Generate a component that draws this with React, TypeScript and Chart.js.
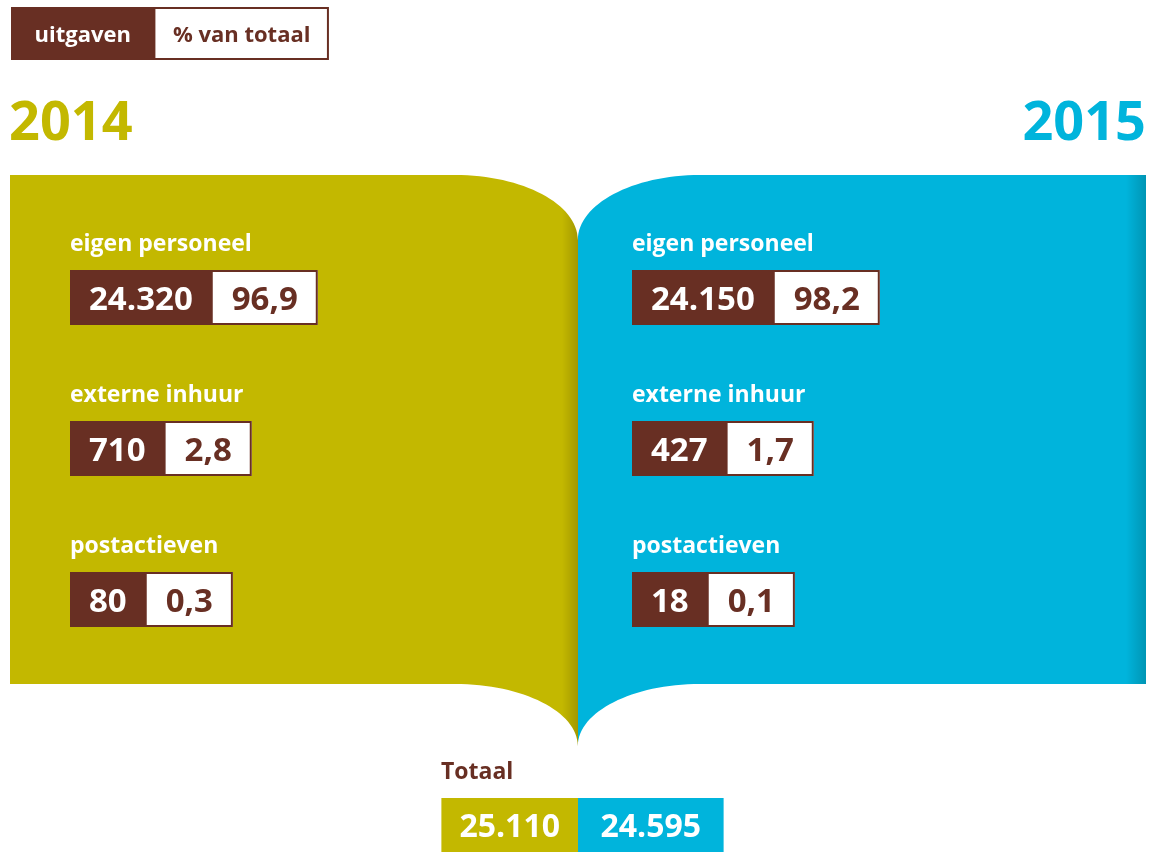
import React, { useEffect, useRef } from 'react';
import { Chart, registerables } from 'chart.js';

Chart.register(...registerables);

// ---- data ----
const categories = ['eigen personeel', 'externe inhuur', 'postactieven'];
const years = ['2014', '2015'];
const uitgaven2014 = [24320, 710, 80];
const pct2014 = [96.9, 2.8, 0.3];
const uitgaven2015 = [24150, 427, 18];
const pct2015 = [98.2, 1.7, 0.1];
const totals = [25110, 24595];
const legendLabels = ['uitgaven', '% van totaal'];
const totalLabel = 'Totaal';

// ---- style ----
const OLIVE = '#C3B800';
const OLIVE_DARK = '#A39800';
const CYAN = '#00B4DC';
const CYAN_DARK = '#0095B4';
const BROWN = '#682F23';
const WHITE = '#FFFFFF';
const FONT = '"Open Sans", "DejaVu Sans", sans-serif';
const W = 1153;
const H = 852;

const fmtInt = (n: number) => String(n).replace(/\B(?=(\d{3})+(?!\d))/g, '.');
const fmtPct = (p: number) => p.toFixed(1).replace('.', ',');

const infographicPlugin = {
  id: 'infographic',
  beforeDraw(chart: any) {
    const ctx = chart.ctx as CanvasRenderingContext2D;
    ctx.save();
    ctx.fillStyle = WHITE;
    ctx.fillRect(0, 0, chart.width, chart.height);
    ctx.restore();
  },
  afterDraw(chart: any) {
    const ctx = chart.ctx as CanvasRenderingContext2D;
    const sx = chart.scales.x;
    const sy = chart.scales.y;
    const X = (v: number) => sx.getPixelForValue(v);
    const Y = (v: number) => sy.getPixelForValue(v);
    const k = 0.5523;

    ctx.save();

    // ---- legend ----
    ctx.font = `bold 22px ${FONT}`;
    const lw1 = ctx.measureText(legendLabels[0]).width + 47;
    const lw2 = ctx.measureText(legendLabels[1]).width + 37;
    const lx = X(11), ly = Y(7), lh = 53;
    ctx.fillStyle = BROWN;
    ctx.fillRect(lx, ly, lw1, lh);
    ctx.fillStyle = WHITE;
    ctx.fillRect(lx + lw1, ly, lw2, lh);
    ctx.strokeStyle = BROWN;
    ctx.lineWidth = 2;
    ctx.strokeRect(lx + lw1, ly + 1, lw2 - 1, lh - 2);
    ctx.textAlign = 'center';
    ctx.textBaseline = 'alphabetic';
    ctx.fillStyle = WHITE;
    ctx.fillText(legendLabels[0], lx + lw1 / 2, Y(42));
    ctx.fillStyle = BROWN;
    ctx.fillText(legendLabels[1], lx + lw1 + lw2 / 2, Y(42));

    // ---- years ----
    ctx.font = `bold 54px ${FONT}`;
    ctx.textAlign = 'left';
    ctx.fillStyle = OLIVE;
    ctx.fillText(years[0], X(9), Y(140));
    ctx.textAlign = 'right';
    ctx.fillStyle = CYAN;
    ctx.fillText(years[1], X(1146), Y(140));

    // ---- book pages ----
    const top = 175, bot = 684, spine = 578, spineTop = 240, spineBot = 746;
    const lcx = 455, lrx = spine - lcx;
    const rcx = 700, rrx = rcx - spine;
    const ryT = spineTop - top, ryB = spineBot - bot;

    // left page
    ctx.beginPath();
    ctx.moveTo(X(10), Y(top));
    ctx.lineTo(X(lcx), Y(top));
    ctx.bezierCurveTo(X(lcx + k * lrx), Y(top), X(spine), Y(spineTop - k * ryT), X(spine), Y(spineTop));
    ctx.lineTo(X(spine), Y(spineBot));
    ctx.bezierCurveTo(X(spine), Y(spineBot - k * ryB), X(lcx + k * lrx), Y(bot), X(lcx), Y(bot));
    ctx.lineTo(X(10), Y(bot));
    ctx.closePath();
    let g = ctx.createLinearGradient(X(10), 0, X(spine), 0);
    const ls = (spine - 16 - 10) / (spine - 10);
    g.addColorStop(0, OLIVE);
    g.addColorStop(ls, OLIVE);
    g.addColorStop(1, OLIVE_DARK);
    ctx.fillStyle = g;
    ctx.fill();

    // right page
    const rEdge = 1146;
    ctx.beginPath();
    ctx.moveTo(X(rEdge), Y(top));
    ctx.lineTo(X(rcx), Y(top));
    ctx.bezierCurveTo(X(rcx - k * rrx), Y(top), X(spine), Y(spineTop - k * ryT), X(spine), Y(spineTop));
    ctx.lineTo(X(spine), Y(spineBot));
    ctx.bezierCurveTo(X(spine), Y(spineBot - k * ryB), X(rcx - k * rrx), Y(bot), X(rcx), Y(bot));
    ctx.lineTo(X(rEdge), Y(bot));
    ctx.closePath();
    g = ctx.createLinearGradient(X(spine), 0, X(rEdge), 0);
    const rs = (rEdge - 20 - spine) / (rEdge - spine);
    g.addColorStop(0, CYAN);
    g.addColorStop(rs, CYAN);
    g.addColorStop(1, CYAN_DARK);
    ctx.fillStyle = g;
    ctx.fill();

    // ---- category blocks ----
    const drawPair = (x: number, y: number, val: string, pct: string) => {
      const h = 55;
      ctx.font = `bold 33px ${FONT}`;
      const w1 = ctx.measureText(val).width + 38;
      const w2 = ctx.measureText(pct).width + 40;
      ctx.fillStyle = BROWN;
      ctx.fillRect(X(x), Y(y), w1, h);
      ctx.fillStyle = WHITE;
      ctx.fillRect(X(x) + w1, Y(y), w2, h);
      ctx.strokeStyle = BROWN;
      ctx.lineWidth = 2;
      ctx.strokeRect(X(x) + w1, Y(y) + 1, w2 - 1, h - 2);
      ctx.textAlign = 'center';
      ctx.textBaseline = 'alphabetic';
      ctx.fillStyle = WHITE;
      ctx.fillText(val, X(x) + w1 / 2, Y(y) + h / 2 + 12);
      ctx.fillStyle = BROWN;
      ctx.fillText(pct, X(x) + w1 + w2 / 2, Y(y) + h / 2 + 12);
    };

    const rowTops = [270, 421, 572];
    const sides = [
      { x: 70, vals: uitgaven2014, pcts: pct2014 },
      { x: 632, vals: uitgaven2015, pcts: pct2015 },
    ];
    sides.forEach((s) => {
      categories.forEach((cat, i) => {
        ctx.font = `bold 23px ${FONT}`;
        ctx.textAlign = 'left';
        ctx.textBaseline = 'alphabetic';
        ctx.fillStyle = WHITE;
        ctx.fillText(cat, X(s.x), Y(rowTops[i] - 19));
        drawPair(s.x, rowTops[i], fmtInt(s.vals[i]), fmtPct(s.pcts[i]));
      });
    });

    // ---- totals ----
    ctx.font = `bold 23px ${FONT}`;
    ctx.textAlign = 'left';
    ctx.fillStyle = BROWN;
    ctx.fillText(totalLabel, X(441), Y(779));

    ctx.font = `bold 32px ${FONT}`;
    const t1 = fmtInt(totals[0]);
    const t2 = fmtInt(totals[1]);
    const tw1 = ctx.measureText(t1).width + 36;
    const tw2 = ctx.measureText(t2).width + 45;
    const ty = Y(798), th = 54;
    ctx.fillStyle = OLIVE;
    ctx.fillRect(X(spine) - tw1, ty, tw1, th);
    ctx.fillStyle = CYAN;
    ctx.fillRect(X(spine), ty, tw2, th);
    ctx.textAlign = 'center';
    ctx.fillStyle = WHITE;
    ctx.fillText(t1, X(spine) - tw1 / 2, ty + th / 2 + 12);
    ctx.fillText(t2, X(spine) + tw2 / 2, ty + th / 2 + 12);

    ctx.restore();
  },
};

export default function App() {
  const canvasRef = useRef<HTMLCanvasElement | null>(null);

  useEffect(() => {
    if (!canvasRef.current) return;
    const chart = new Chart(canvasRef.current, {
      type: 'scatter',
      data: { datasets: [] },
      options: {
        animation: false,
        responsive: false,
        devicePixelRatio: 1,
        layout: { padding: 0 },
        plugins: { legend: { display: false }, tooltip: { enabled: false } },
        scales: {
          x: { type: 'linear', min: 0, max: W, display: false },
          y: { type: 'linear', min: 0, max: H, reverse: true, display: false },
        },
      },
      plugins: [infographicPlugin],
    });
    return () => chart.destroy();
  }, []);

  return (
    <div style={{ position: 'absolute', left: 0, top: 0, width: W, height: H, background: '#fff' }}>
      <canvas ref={canvasRef} width={W} height={H} style={{ display: 'block' }} />
    </div>
  );
}
